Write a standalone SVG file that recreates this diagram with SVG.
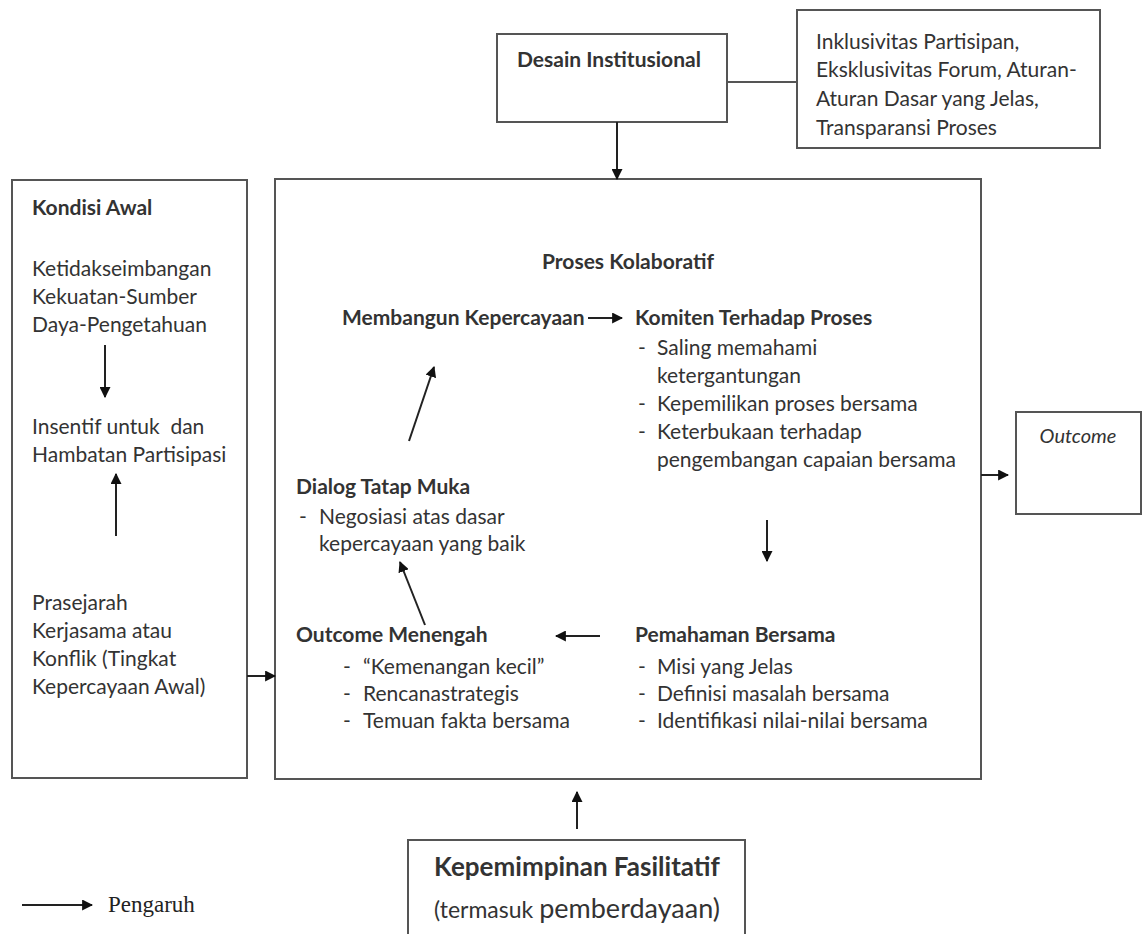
<svg xmlns="http://www.w3.org/2000/svg" width="1147" height="934" viewBox="0 0 1147 934">
<defs>
<style>
.box{fill:#fff;stroke:#555;stroke-width:2}
.t{font-family:Lato,"Liberation Sans",sans-serif;font-size:21px;fill:#333}
.b{font-weight:bold}
.c{stroke:#222;stroke-width:2;fill:none}
</style>
<marker id="ah" viewBox="0 0 10 10" refX="9" refY="5" markerWidth="5.5" markerHeight="5.5" orient="auto" markerUnits="strokeWidth">
<path d="M0,0 L10,5 L0,10 z" fill="#111"/>
</marker>
</defs>
<rect width="1147" height="934" fill="#fff"/>

<g id="desain">
<rect class="box" x="497" y="34" width="230" height="88"/>
<text class="t b" x="517" y="67">Desain Institusional</text>
</g>
<g id="desain-detail">
<rect class="box" x="797" y="10" width="303" height="138"/>
<text class="t" x="816" y="49">Inklusivitas Partisipan,</text>
<text class="t" x="816" y="77">Eksklusivitas Forum, Aturan-</text>
<text class="t" x="816" y="106">Aturan Dasar yang Jelas,</text>
<text class="t" x="816" y="135">Transparansi Proses</text>
</g>

<g id="kondisi">
<rect class="box" x="12" y="180" width="235" height="598"/>
<text class="t b" x="32" y="215">Kondisi Awal</text>
<text class="t" x="32" y="276">Ketidakseimbangan</text>
<text class="t" x="32" y="304">Kekuatan-Sumber</text>
<text class="t" x="32" y="332">Daya-Pengetahuan</text>
<text class="t" x="32" y="434">Insentif untuk&#160; dan</text>
<text class="t" x="32" y="462">Hambatan Partisipasi</text>
<text class="t" x="32" y="610">Prasejarah</text>
<text class="t" x="32" y="638">Kerjasama atau</text>
<text class="t" x="32" y="666">Konflik (Tingkat</text>
<text class="t" x="32" y="694">Kepercayaan Awal)</text>
</g>

<g id="proses">
<rect class="box" x="275" y="179" width="706" height="600"/>
<text class="t b" x="628" y="269" text-anchor="middle">Proses Kolaboratif</text>
<text class="t b" x="342" y="325">Membangun Kepercayaan</text>
<text class="t b" x="635" y="325">Komiten Terhadap Proses</text>
<text class="t" x="638" y="355">-</text><text class="t" x="657" y="355">Saling memahami</text>
<text class="t" x="657" y="383">ketergantungan</text>
<text class="t" x="638" y="411">-</text><text class="t" x="657" y="411">Kepemilikan proses bersama</text>
<text class="t" x="638" y="439">-</text><text class="t" x="657" y="439">Keterbukaan terhadap</text>
<text class="t" x="657" y="467">pengembangan capaian bersama</text>
<text class="t b" x="296" y="494">Dialog Tatap Muka</text>
<text class="t" x="299" y="524">-</text><text class="t" x="319" y="524">Negosiasi atas dasar</text>
<text class="t" x="319" y="551">kepercayaan yang baik</text>
<text class="t b" x="296" y="642">Outcome Menengah</text>
<text class="t" x="343" y="674">-</text><text class="t" x="363" y="674">“Kemenangan kecil”</text>
<text class="t" x="343" y="701">-</text><text class="t" x="363" y="701">Rencanastrategis</text>
<text class="t" x="343" y="728">-</text><text class="t" x="363" y="728">Temuan fakta bersama</text>
<text class="t b" x="635" y="642">Pemahaman Bersama</text>
<text class="t" x="638" y="674">-</text><text class="t" x="657" y="674">Misi yang Jelas</text>
<text class="t" x="638" y="701">-</text><text class="t" x="657" y="701">Definisi masalah bersama</text>
<text class="t" x="638" y="728">-</text><text class="t" x="657" y="728">Identifikasi nilai-nilai bersama</text>
</g>

<g id="outcome">
<rect class="box" x="1016" y="412" width="125" height="102"/>
<text class="t" x="1078" y="443" text-anchor="middle" style="font-style:italic;font-size:20px">Outcome</text>
</g>

<g id="kepemimpinan">
<rect class="box" x="408" y="840" width="337" height="110"/>
<text class="t b" x="577" y="876" text-anchor="middle" style="font-size:26px">Kepemimpinan Fasilitatif</text>
<text class="t" x="577" y="918" text-anchor="middle"><tspan style="font-size:23px">(termasuk </tspan><tspan style="font-size:27px">pemberdayaan)</tspan></text>
</g>

<g id="legend">
<line class="c" x1="22" y1="905" x2="92" y2="905" marker-end="url(#ah)"/>
<text x="108" y="912" font-family="'Liberation Serif',serif" font-size="23" fill="#222">Pengaruh</text>
</g>

<g id="connectors">
<line x1="727" y1="82" x2="797" y2="82" stroke="#555" stroke-width="2"/>
<line class="c" x1="617" y1="122" x2="617" y2="179" marker-end="url(#ah)"/>
<line class="c" x1="105" y1="345" x2="105" y2="397" marker-end="url(#ah)"/>
<line class="c" x1="116" y1="536" x2="116" y2="474" marker-end="url(#ah)"/>
<line class="c" x1="247" y1="676" x2="275" y2="676" marker-end="url(#ah)"/>
<line class="c" x1="588" y1="318" x2="622" y2="318" marker-end="url(#ah)"/>
<line class="c" x1="409" y1="441" x2="434" y2="367" marker-end="url(#ah)"/>
<line class="c" x1="767" y1="520" x2="767" y2="561" marker-end="url(#ah)"/>
<line class="c" x1="600" y1="636" x2="556" y2="636" marker-end="url(#ah)"/>
<line class="c" x1="425" y1="625" x2="400" y2="562" marker-end="url(#ah)"/>
<line class="c" x1="981" y1="475" x2="1008" y2="475" marker-end="url(#ah)"/>
<line class="c" x1="577" y1="829" x2="577" y2="792" marker-end="url(#ah)"/>
</g>
</svg>
